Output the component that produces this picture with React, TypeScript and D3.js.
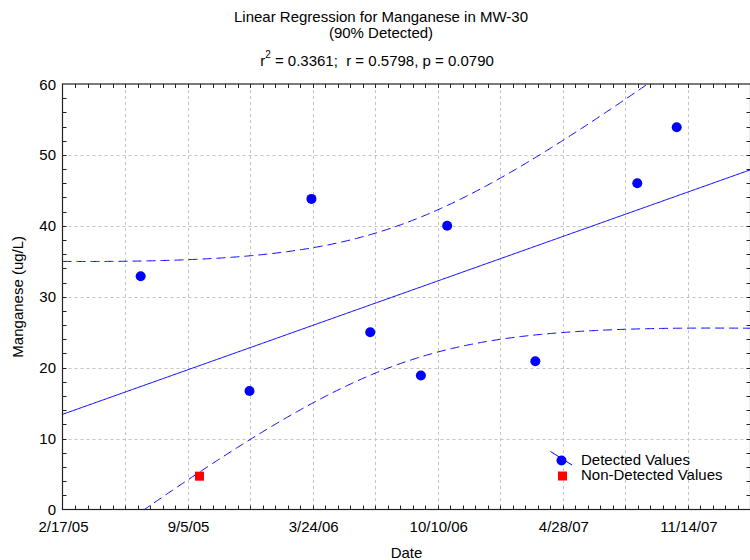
import React, { useEffect, useRef } from 'react';
import * as d3 from 'd3';

const width = 750;
const height = 560;
const plot = { left: 62.5, right: 750.5, top: 84, bottom: 509.5 };
const font = '"Liberation Sans", Arial, sans-serif';

// sample data
const sampleDates = ['6/22/05', '9/24/05', '12/13/05', '3/22/06', '6/24/06', '9/13/06', '10/25/06', '3/15/07', '8/25/07', '10/27/07'];
const manganese = [32.9, 4.7, 16.7, 43.8, 25.0, 18.9, 40.0, 20.9, 46.0, 53.9];
const detected = [true, false, true, true, true, true, true, true, true, true];

// axes
const xStart = '2/17/05';
const xEnd = '2/22/08';
const xTickLabels = ['2/17/05', '9/5/05', '3/24/06', '10/10/06', '4/28/07', '11/14/07'];
const yTicks = [0, 10, 20, 30, 40, 50, 60];
const gridDays = 100;
const minorDays = 20;
const minorY = 2;

const titleLines = ['Linear Regression for Manganese in MW-30', '(90% Detected)'];
const statsText = ' = 0.3361;  r = 0.5798, p = 0.0790';
const legendLabels = ['Detected Values', 'Non-Detected Values'];
const tCrit = 2.306; // t(0.975, n-2 = 8)

const parse = d3.utcParse('%m/%d/%y');

export default function App() {
  const ref = useRef(null);

  useEffect(() => {
    const svg = d3.select(ref.current);
    svg.selectAll('*').remove();

    const start = parse(xStart);
    const end = parse(xEnd);
    const x = d3.scaleUtc().domain([start, end]).range([plot.left, plot.right]);
    const y = d3.scaleLinear().domain([0, 60]).range([plot.bottom, plot.top]);

    const points = sampleDates.map((s, i) => ({ date: parse(s), value: manganese[i], detected: detected[i] }));

    // least squares fit on days since start
    const dayOf = (d) => (d - start) / 864e5;
    const xs = points.map(p => dayOf(p.date));
    const ys = points.map(p => p.value);
    const n = xs.length;
    const mx = d3.mean(xs);
    const my = d3.mean(ys);
    const sxx = d3.sum(xs, v => (v - mx) ** 2);
    const sxy = d3.sum(xs, (v, i) => (v - mx) * (ys[i] - my));
    const slope = sxy / sxx;
    const intercept = my - slope * mx;
    const sse = d3.sum(xs, (v, i) => (ys[i] - (intercept + slope * v)) ** 2);
    const s = Math.sqrt(sse / (n - 2));
    const half = (v) => tCrit * s * Math.sqrt(1 / n + (v - mx) ** 2 / sxx);

    const totalDays = dayOf(end);
    const grid = d3.range(0, totalDays + 1, 2);
    const toDate = (dd) => d3.utcDay.offset(start, dd);

    svg.append('defs').append('clipPath').attr('id', 'plot-clip')
      .append('rect')
      .attr('x', plot.left).attr('y', plot.top)
      .attr('width', plot.right - plot.left).attr('height', plot.bottom - plot.top);

    // gridlines
    const gridG = svg.append('g')
      .attr('stroke', '#c4c4c4')
      .attr('stroke-dasharray', '3,3')
      .attr('stroke-width', 1);
    const vGrid = d3.range(gridDays, totalDays, gridDays).map(toDate);
    gridG.selectAll('.vg').data(vGrid).enter().append('line')
      .attr('x1', d => Math.round(x(d)) + 0.5).attr('x2', d => Math.round(x(d)) + 0.5)
      .attr('y1', plot.top).attr('y2', plot.bottom);
    gridG.selectAll('.hg').data(yTicks.slice(1, -1)).enter().append('line')
      .attr('x1', plot.left).attr('x2', plot.right)
      .attr('y1', d => Math.round(y(d)) + 0.5).attr('y2', d => Math.round(y(d)) + 0.5);

    // regression + confidence bands
    const clipG = svg.append('g').attr('clip-path', 'url(#plot-clip)');
    const line = d3.line().x(d => x(toDate(d[0]))).y(d => y(d[1]));
    clipG.append('path')
      .attr('d', line(grid.map(v => [v, intercept + slope * v])))
      .attr('fill', 'none').attr('stroke', '#0000ff').attr('stroke-width', 1);
    [1, -1].forEach(sign => {
      clipG.append('path')
        .attr('d', line(grid.map(v => [v, intercept + slope * v + sign * half(v)])))
        .attr('fill', 'none').attr('stroke', '#0000ff').attr('stroke-width', 1)
        .attr('stroke-dasharray', '9,5');
    });

    // points
    clipG.selectAll('.pt').data(points.filter(p => p.detected)).enter().append('circle')
      .attr('cx', d => x(d.date)).attr('cy', d => y(d.value)).attr('r', 5)
      .attr('fill', '#0000ff');
    clipG.selectAll('.nd').data(points.filter(p => !p.detected)).enter().append('rect')
      .attr('x', d => x(d.date) - 4.5).attr('y', d => y(d.value) - 4.5)
      .attr('width', 9).attr('height', 9)
      .attr('fill', '#ff0000');

    // frame
    svg.append('rect')
      .attr('x', plot.left).attr('y', plot.top)
      .attr('width', plot.right - plot.left).attr('height', plot.bottom - plot.top)
      .attr('fill', 'none').attr('stroke', '#222').attr('stroke-width', 1.2);

    // inward ticks on all four sides
    const tickG = svg.append('g').attr('stroke', '#222').attr('stroke-width', 1);
    const xMinor = d3.range(minorDays, totalDays, minorDays).map(toDate);
    tickG.selectAll('.tb').data(xMinor).enter().append('line')
      .attr('x1', d => Math.round(x(d)) + 0.5).attr('x2', d => Math.round(x(d)) + 0.5)
      .attr('y1', plot.bottom).attr('y2', plot.bottom - 4);
    tickG.selectAll('.tt').data(xMinor).enter().append('line')
      .attr('x1', d => Math.round(x(d)) + 0.5).attr('x2', d => Math.round(x(d)) + 0.5)
      .attr('y1', plot.top).attr('y2', plot.top + 4);
    const yMinor = d3.range(minorY, 60, minorY);
    tickG.selectAll('.tl').data(yMinor).enter().append('line')
      .attr('y1', d => Math.round(y(d)) + 0.5).attr('y2', d => Math.round(y(d)) + 0.5)
      .attr('x1', plot.left).attr('x2', plot.left + 4);
    tickG.selectAll('.tr').data(yMinor).enter().append('line')
      .attr('y1', d => Math.round(y(d)) + 0.5).attr('y2', d => Math.round(y(d)) + 0.5)
      .attr('x1', plot.right).attr('x2', plot.right - 4);

    // tick labels
    const labelG = svg.append('g')
      .attr('font-family', font).attr('font-size', 15).attr('fill', '#000');
    labelG.selectAll('.xl').data(xTickLabels).enter().append('text')
      .attr('x', d => x(parse(d)) + 1).attr('y', 532)
      .attr('text-anchor', 'middle')
      .text(d => d);
    labelG.selectAll('.yl').data(yTicks).enter().append('text')
      .attr('x', 56).attr('y', d => y(d) + 5.5)
      .attr('text-anchor', 'end')
      .text(d => d);

    // axis titles
    labelG.append('text')
      .attr('x', (plot.left + plot.right) / 2).attr('y', 558)
      .attr('text-anchor', 'middle').text('Date');
    labelG.append('text')
      .attr('transform', `translate(23, ${(plot.top + plot.bottom) / 2}) rotate(-90)`)
      .attr('text-anchor', 'middle').text('Manganese (ug/L)');

    // titles
    labelG.selectAll('.title').data(titleLines).enter().append('text')
      .attr('x', 381).attr('y', (d, i) => 22 + i * 16)
      .attr('text-anchor', 'middle').text(d => d);
    const stats = labelG.append('text')
      .attr('x', 377).attr('y', 66)
      .attr('text-anchor', 'middle')
      .style('white-space', 'pre');
    stats.append('tspan').text('r');
    stats.append('tspan').attr('dy', -8).attr('font-size', 10).text('2');
    stats.append('tspan').attr('dy', 8).text(statsText);

    // legend
    const legend = svg.append('g');
    legend.append('line')
      .attr('x1', 550.5).attr('y1', 451.5).attr('x2', 572).attr('y2', 465)
      .attr('stroke', '#0000ff').attr('stroke-width', 1);
    legend.append('circle')
      .attr('cx', 561.5).attr('cy', 460.5).attr('r', 5).attr('fill', '#0000ff');
    legend.append('rect')
      .attr('x', 558).attr('y', 471.5).attr('width', 9).attr('height', 9).attr('fill', '#ff0000');
    legend.selectAll('.lt').data(legendLabels).enter().append('text')
      .attr('x', 581).attr('y', (d, i) => 464.5 + i * 15)
      .attr('font-family', font).attr('font-size', 15)
      .text(d => d);
  }, []);

  return <svg ref={ref} width={width} height={height}
    style={{ position: 'absolute', left: 0, top: 0, background: '#fff' }} />;
}
